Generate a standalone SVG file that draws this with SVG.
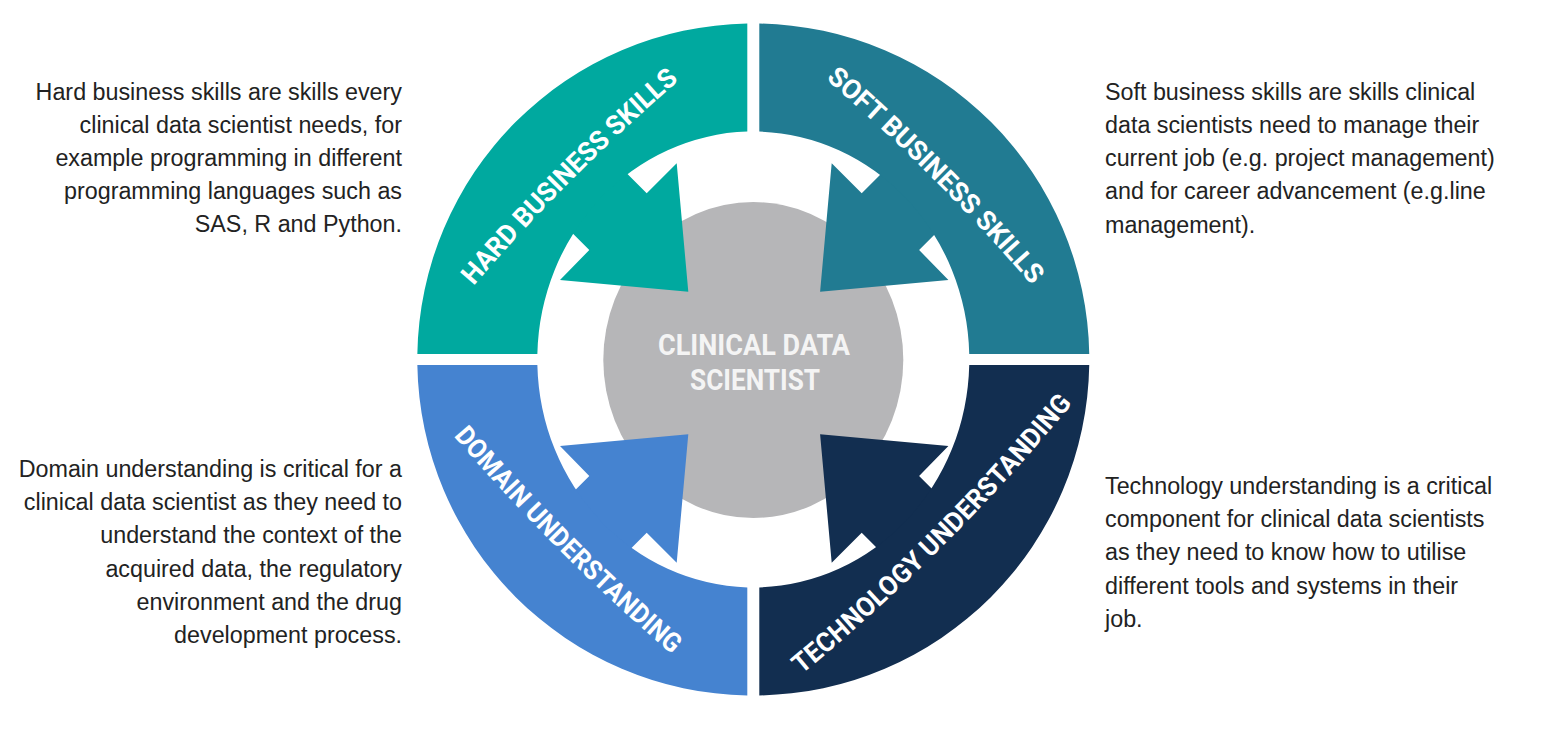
<svg xmlns="http://www.w3.org/2000/svg" xmlns:xlink="http://www.w3.org/1999/xlink" width="1562" height="738" viewBox="0 0 1562 738">
<defs>
<style>
.hard{fill:#00A99F}
.soft{fill:#217B92}
.dom{fill:#4583D0}
.tech{fill:#122E50}
.ring-label{font-family:Roboto,"Liberation Sans",sans-serif;font-weight:700;font-size:27px;fill:#FFFFFF}
.center-label{font-family:Roboto,"Liberation Sans",sans-serif;font-weight:700;font-size:29px;fill:#F4F4F4}
.desc{font-family:"Liberation Sans",Arial,sans-serif;font-size:23.3px;fill:#222222}
</style>
<path id="p-hard" d="M441.3,309.9 A2000,2000 0 0 1 702.9,48.3"/>
<path id="p-soft" d="M802.1,47.3 A2000,2000 0 0 1 1063.7,308.9"/>
<path id="p-dom" d="M433.8,398.4 A2000,2000 0 0 0 709.6,674.2"/>
<path id="p-tech" d="M765.1,692.3 A2000,2000 0 0 0 1090.3,367.1"/>
</defs>
<rect width="1562" height="738" fill="#FFFFFF"/>

<g id="center-node">
<ellipse cx="753.3" cy="360" rx="150" ry="158" fill="#B6B6B8"/>
<text class="center-label" x="754" y="355" text-anchor="middle" textLength="192" lengthAdjust="spacingAndGlyphs">CLINICAL DATA</text>
<text class="center-label" x="755" y="390" text-anchor="middle" textLength="130" lengthAdjust="spacingAndGlyphs">SCIENTIST</text>
</g>

<g id="connectors">
<path class="hard" d="M529.3,190 L589.3,250 L560,280 L688.3,291.7 L676.7,163.3 L646.7,193.3 L586.7,133.3 Z"/>
<path class="soft" d="M979.1,190 L919.1,250 L948.4,280 L820.1,291.7 L831.7,163.3 L861.7,193.3 L921.7,133.3 Z"/>
<path class="dom" d="M529.3,536 L589.3,476 L560,446 L688.3,434.3 L676.7,562.7 L646.7,532.7 L586.7,592.7 Z"/>
<path class="tech" d="M979.1,536 L919.1,476 L948.4,446 L820.1,434.3 L831.7,562.7 L861.7,532.7 L921.7,592.7 Z"/>
</g>

<g id="hard-business-skills">
<path class="hard" d="M747.3,23.55 A336,336 0 0 0 417.35,354 L537.36,354 A216,228 0 0 1 747.3,131.59 Z"/>
<text class="ring-label" dominant-baseline="central"><textPath xlink:href="#p-hard" href="#p-hard" startOffset="50%" text-anchor="middle" textLength="292" lengthAdjust="spacingAndGlyphs">HARD BUSINESS SKILLS</textPath></text>
</g>

<g id="soft-business-skills">
<path class="soft" d="M759.3,23.55 A336,336 0 0 1 1089.25,354 L969.24,354 A216,228 0 0 0 759.3,131.59 Z"/>
<text class="ring-label" dominant-baseline="central"><textPath xlink:href="#p-soft" href="#p-soft" startOffset="50%" text-anchor="middle" textLength="293" lengthAdjust="spacingAndGlyphs">SOFT BUSINESS SKILLS</textPath></text>
</g>

<g id="domain-understanding">
<path class="dom" d="M417.35,365 A336,336 0 0 0 747.3,695.45 L747.3,587.41 A216,228 0 0 1 537.36,365 Z"/>
<text class="ring-label" dominant-baseline="central"><textPath xlink:href="#p-dom" href="#p-dom" startOffset="50%" text-anchor="middle" textLength="308" lengthAdjust="spacingAndGlyphs">DOMAIN UNDERSTANDING</textPath></text>
</g>

<g id="technology-understanding">
<path class="tech" d="M759.3,695.45 A336,336 0 0 0 1089.25,365 L969.24,365 A216,228 0 0 1 759.3,587.41 Z"/>
<text class="ring-label" dominant-baseline="central"><textPath xlink:href="#p-tech" href="#p-tech" startOffset="50%" text-anchor="middle" textLength="382" lengthAdjust="spacingAndGlyphs">TECHNOLOGY UNDERSTANDING</textPath></text>
</g>

<g id="desc-hard-business-skills">
<text class="desc" text-anchor="end"><tspan x="402" y="100">Hard business skills are skills every</tspan><tspan x="402" y="133">clinical data scientist needs, for</tspan><tspan x="402" y="166">example programming in different</tspan><tspan x="402" y="199">programming languages such as</tspan><tspan x="402" y="232">SAS, R and Python.</tspan></text>
</g>

<g id="desc-soft-business-skills">
<text class="desc"><tspan x="1105" y="100">Soft business skills are skills clinical</tspan><tspan x="1105" y="133">data scientists need to manage their</tspan><tspan x="1105" y="166">current job (e.g. project management)</tspan><tspan x="1105" y="199">and for career advancement (e.g.line</tspan><tspan x="1105" y="233">management).</tspan></text>
</g>

<g id="desc-domain-understanding">
<text class="desc" text-anchor="end"><tspan x="402" y="477">Domain understanding is critical for a</tspan><tspan x="402" y="510">clinical data scientist as they need to</tspan><tspan x="402" y="543">understand the context of the</tspan><tspan x="402" y="577">acquired data, the regulatory</tspan><tspan x="402" y="610">environment and the drug</tspan><tspan x="402" y="643">development process.</tspan></text>
</g>

<g id="desc-technology-understanding">
<text class="desc"><tspan x="1105" y="494">Technology understanding is a critical</tspan><tspan x="1105" y="527">component for clinical data scientists</tspan><tspan x="1105" y="560">as they need to know how to utilise</tspan><tspan x="1105" y="594">different tools and systems in their</tspan><tspan x="1105" y="627">job.</tspan></text>
</g>
</svg>
